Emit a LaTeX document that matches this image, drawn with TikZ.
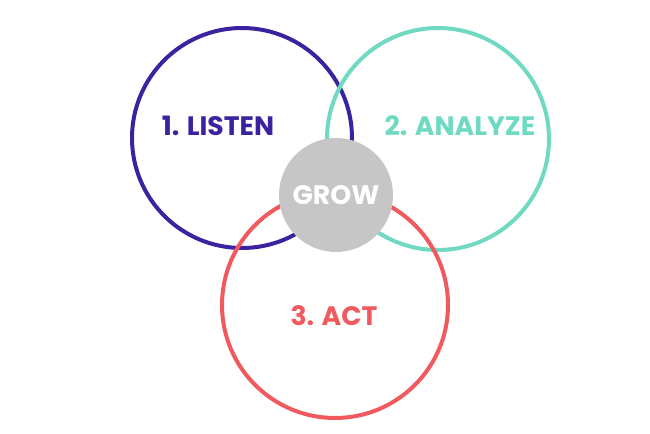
\documentclass[tikz,border=0pt]{standalone}
\usepackage{fontspec}
\setmainfont{Poppins}
\definecolor{listenc}{HTML}{3B23A0}
\definecolor{analyzec}{HTML}{6FD9C2}
\definecolor{actc}{HTML}{F05A5E}
\definecolor{growc}{HTML}{C6C6C6}
\tikzset{
  ring/.style={line width=3pt},
  steplabel/.style={font=\fontsize{20}{24}\selectfont\bfseries}
}
\begin{document}
\begin{tikzpicture}[x=0.75pt,y=-0.75pt]
  \useasboundingbox (0,0) rectangle (650,433);
  \coordinate (L) at (242,138);
  \coordinate (A) at (438,139);
  \coordinate (T) at (335,305);
  \coordinate (G) at (336,195);
  \draw[ring,listenc] (L) circle[radius=110];
  \draw[ring,analyzec] (A) circle[radius=111];
  \draw[ring,actc] (T) circle[radius=113];
  \fill[growc] (G) circle[radius=57];
  \node[steplabel,text=listenc] (listen) at (218,126) {1. LISTEN};
  \node[steplabel,text=analyzec] (analyze) at (460,126) {2. ANALYZE};
  \node[steplabel,text=actc] (act) at (334,316) {3. ACT};
  \node[steplabel,text=white] (grow) at (G) {GROW};
\end{tikzpicture}
\end{document}
